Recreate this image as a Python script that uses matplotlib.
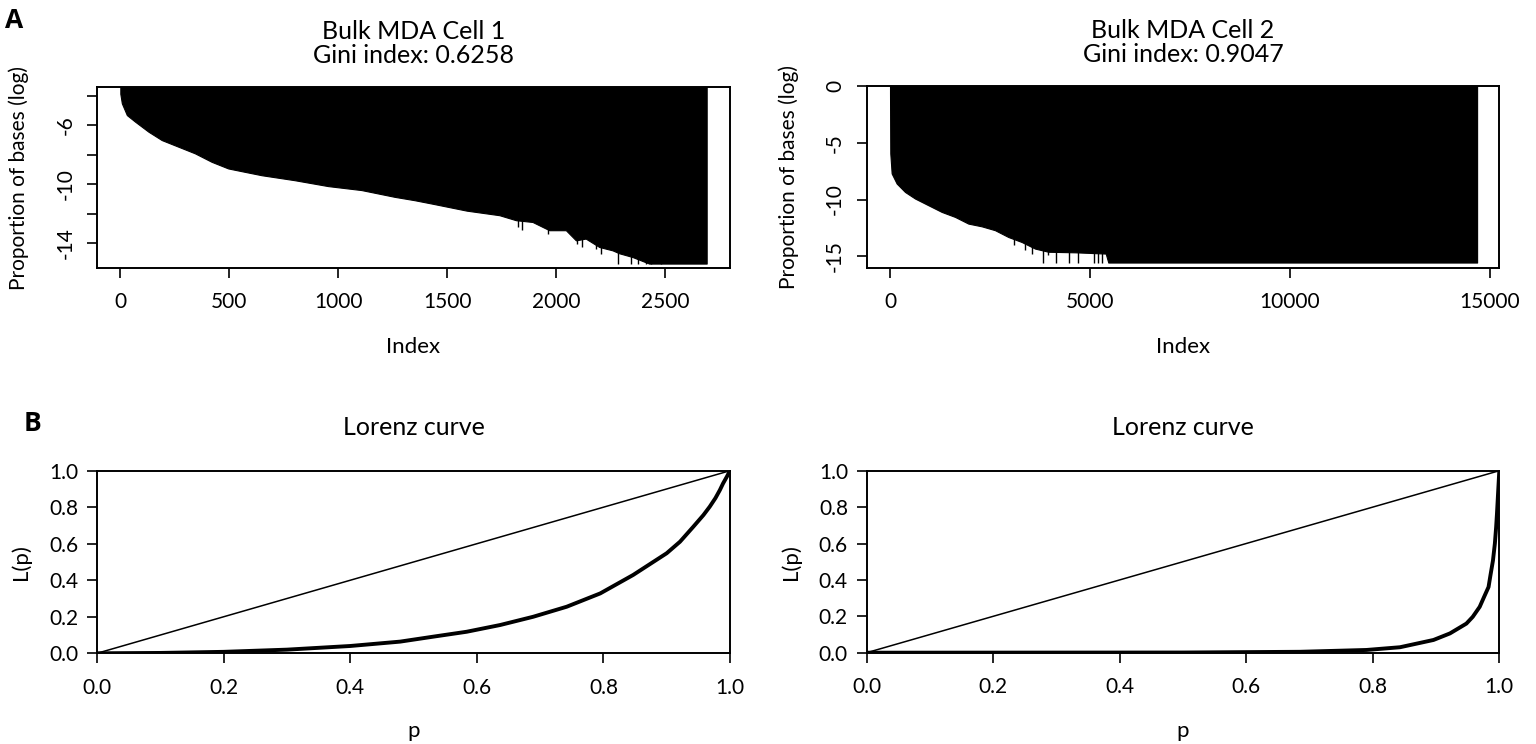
import matplotlib
matplotlib.use('Agg')
import matplotlib.pyplot as plt

plt.rcParams['font.family'] = ['Lato', 'DejaVu Sans']

# Panel A: sorted log proportion of bases per index
cell1_idx = [1, 8, 31, 69, 130, 191, 267, 343, 420, 496, 572, 649, 801, 954, 1107, 1259,
             1351, 1437, 1590, 1740, 1816, 1892, 1969, 2045, 2091, 2136, 2198, 2259,
             2290, 2350, 2427, 2691]
cell1_val = [-3.85, -4.5, -5.3, -5.75, -6.43, -7.0, -7.45, -7.9, -8.48, -8.93, -9.16,
             -9.39, -9.73, -10.13, -10.4, -10.86, -11.09, -11.34, -11.8, -12.11, -12.45,
             -12.57, -13.13, -13.13, -13.82, -13.7, -14.27, -14.5, -14.7, -14.95, -15.4,
             -15.4]
cell1_spike_idx = [1824, 1844, 1961, 2094, 2119, 2182, 2205, 2286, 2343, 2378, 2411, 2434, 2483]
cell1_spike_val = [-12.9, -13.13, -13.36, -14.04, -14.27, -14.38, -14.72, -15.4, -15.4,
                   -15.4, -15.4, -15.4, -15.4]

cell2_idx = [1, 8, 42, 167, 375, 625, 958, 1292, 1625, 1958, 2292, 2625, 2958, 3292,
             3625, 3958, 4632, 5393, 5457, 14677]
cell2_val = [-0.6, -5.94, -7.7, -8.59, -9.33, -9.91, -10.5, -11.09, -11.53, -12.12,
             -12.36, -12.7, -13.3, -13.74, -14.32, -14.6, -14.65, -14.76, -15.55, -15.55]
cell2_spike_idx = [3109, 3363, 3553, 3832, 3960, 4150, 4480, 4695, 5101, 5203, 5292]
cell2_spike_val = [-14.03, -14.47, -14.76, -15.55, -14.9, -15.55, -15.55, -15.55, -15.55,
                   -15.55, -15.55]

titles_top = ['Bulk MDA Cell 1\nGini index: 0.6258', 'Bulk MDA Cell 2\nGini index: 0.9047']

# Panel B: Lorenz curves
lorenz1_p = [0, 0.1, 0.2, 0.3, 0.4, 0.479, 0.531, 0.584, 0.637, 0.689, 0.742, 0.795,
             0.847, 0.9, 0.921, 0.942, 0.958, 0.968, 0.977, 0.984, 0.989, 0.995, 1.0]
lorenz1_L = [0, 0.002, 0.008, 0.02, 0.04, 0.064, 0.091, 0.118, 0.155, 0.2, 0.255, 0.328,
             0.429, 0.548, 0.611, 0.693, 0.757, 0.803, 0.85, 0.894, 0.93, 0.967, 1.0]
lorenz2_p = [0, 0.5, 0.685, 0.79, 0.843, 0.896, 0.922, 0.948, 0.958, 0.969, 0.976, 0.983,
             0.986, 0.99, 0.993, 0.995, 0.9963, 0.998, 1.0]
lorenz2_L = [0, 0.001, 0.005, 0.015, 0.03, 0.07, 0.106, 0.16, 0.197, 0.252, 0.307, 0.361,
             0.425, 0.507, 0.6, 0.69, 0.763, 0.872, 1.0]
equality = [0, 1]

W, H = 1536, 744
fig = plt.figure(figsize=(W / 100, H / 100), dpi=100)


def box(x0, y0, x1, y1):
    # pixel box (top-left origin) -> figure fractions
    return [x0 / W, 1 - y1 / H, (x1 - x0) / W, (y1 - y0) / H]


ax1 = fig.add_axes(box(97, 87, 730, 268))
ax2 = fig.add_axes(box(866.7, 86, 1499.3, 268))
ax3 = fig.add_axes(box(97, 470.7, 730, 653.3))
ax4 = fig.add_axes(box(866.7, 470.7, 1499.3, 652.7))

for ax in [ax1, ax2, ax3, ax4]:
    for s in ax.spines.values():
        s.set_linewidth(1.4)
    ax.tick_params(direction='out', length=7.5, width=1.2, labelsize=15)
    ax.tick_params(axis='x', pad=10)

# top panels: R type='h' lines from 0 down to each value
for ax, idx, val, sidx, sval, title in [
        (ax1, cell1_idx, cell1_val, cell1_spike_idx, cell1_spike_val, titles_top[0]),
        (ax2, cell2_idx, cell2_val, cell2_spike_idx, cell2_spike_val, titles_top[1])]:
    ax.fill_between(idx, val, 0, color='black', linewidth=0.8, edgecolor='black')
    ax.vlines(sidx, sval, 0, color='black', linewidth=1.0)
    ax.set_title(title, fontsize=18, pad=17, linespacing=1.08)
    ax.set_xlabel('Index', fontsize=16, labelpad=18)
    ax.set_ylabel('Proportion of bases (log)', fontsize=15, labelpad=19)
    ax.tick_params(axis='y', pad=8)

ax1.set_xlim(-106, 2798)
ax1.set_ylim(-15.7, -3.39)
ax1.set_xticks([0, 500, 1000, 1500, 2000, 2500])
ax1.set_yticks([-4, -6, -8, -10, -12, -14])
ax1.set_yticklabels(['', '-6', '', '-10', '', '-14'], rotation=90, va='center')

ax2.set_xlim(-582, 15232)
ax2.set_ylim(-16.03, 0)
ax2.set_xticks([0, 5000, 10000, 15000])
ax2.set_yticks([0, -5, -10, -15])
ax2.set_yticklabels(['0', '-5', '-10', '-15'], rotation=90, va='center')

# Lorenz panels
for ax, p, L in [(ax3, lorenz1_p, lorenz1_L), (ax4, lorenz2_p, lorenz2_L)]:
    ax.plot(equality, equality, color='black', linewidth=1.1)
    ax.plot(p, L, color='black', linewidth=2.8, solid_joinstyle='round')
    ax.set_xlim(0, 1)
    ax.set_ylim(0, 1)
    ticks = [0, 0.2, 0.4, 0.6, 0.8, 1.0]
    ax.set_xticks(ticks)
    ax.set_yticks(ticks)
    ax.set_xticklabels(['%.1f' % t for t in ticks])
    ax.set_yticklabels(['%.1f' % t for t in ticks])
    ax.tick_params(axis='y', pad=6)
    ax.set_title('Lorenz curve', fontsize=18, pad=26)
    ax.set_xlabel('p', fontsize=16, labelpad=17)
    ax.set_ylabel('L(p)', fontsize=16, labelpad=13)

fig.text(14 / W, 1 - 20 / H, 'A', fontsize=19, fontweight='bold', family='Open Sans',
         ha='center', va='center')
fig.text(32 / W, 1 - 423 / H, 'B', fontsize=19, fontweight='bold', family='Open Sans',
         ha='center', va='center')

fig.savefig('out.png', dpi=100)
